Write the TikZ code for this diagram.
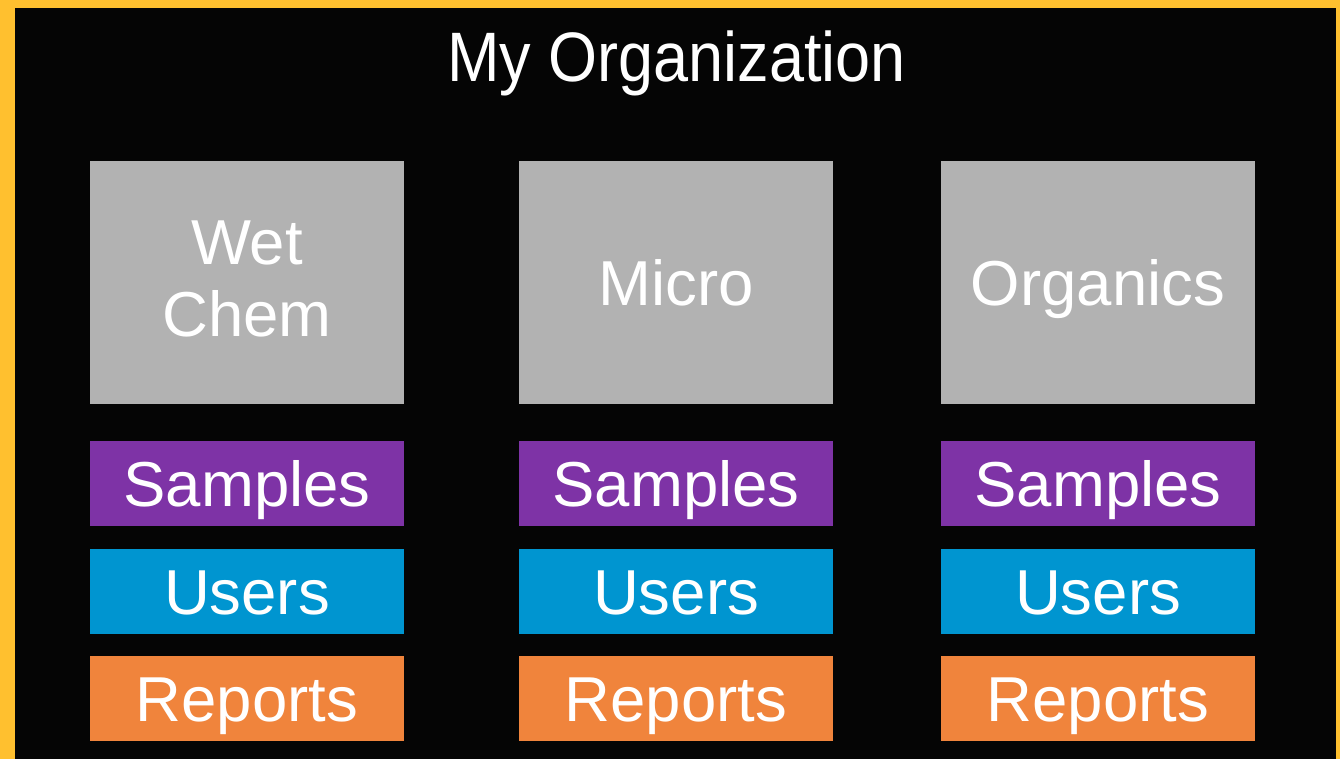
\documentclass[tikz,border=0pt]{standalone}
\usepackage{fontspec}
\setmainfont{Liberation Sans}
\definecolor{frameyellow}{HTML}{FFC02F}
\definecolor{bg}{HTML}{050505}
\definecolor{deptgray}{HTML}{B2B2B2}
\definecolor{samplepurple}{HTML}{7E33A6}
\definecolor{userblue}{HTML}{0095D0}
\definecolor{reportorange}{HTML}{F0843C}
\tikzset{
  dept/.style={fill=deptgray, draw=none, minimum width=314pt, minimum height=243pt, inner sep=0pt,
    text=white, font=\fontsize{63.5}{76}\selectfont, text height=45.5pt, text depth=0pt},
  bar/.style={draw=none, minimum width=314pt, minimum height=85pt, inner sep=0pt,
    text=white, font=\fontsize{63.5}{76}\selectfont, text height=45.5pt, text depth=0pt},
  samplesbar/.style={bar, fill=samplepurple},
  usersbar/.style={bar, fill=userblue},
  reportsbar/.style={bar, fill=reportorange},
}
\begin{document}
\begin{tikzpicture}[x=1pt,y=-1pt]
\fill[frameyellow] (0,0) rectangle (1340,759);
\fill[bg] (15,8) rectangle (1336,759);
\useasboundingbox (0,0) rectangle (1340,759);
\node[text=white, font=\fontsize{70}{84}\selectfont, anchor=base, xscale=0.9, inner sep=0pt] (title) at (676.5,82) {My Organization};
% columns
\node[dept] (wet) at (247,282.5) {};
\node[text=white, font=\fontsize{63.5}{72}\selectfont, align=center, anchor=base, inner sep=0pt] (wetlabel) at (247,336) {Wet\\Chem};
\node[dept] (micro) at (676,282.5) {Micro};
\node[dept] (org) at (1098,282.5) {Organics};
\foreach \c/\x in {a/247, b/676, c/1098}{
  \node[samplesbar] (s\c) at (\x,483.7) {Samples};
  \node[usersbar] (u\c) at (\x,591.5) {Users};
  \node[reportsbar] (r\c) at (\x,698.5) {Reports};
}
\end{tikzpicture}
\end{document}
